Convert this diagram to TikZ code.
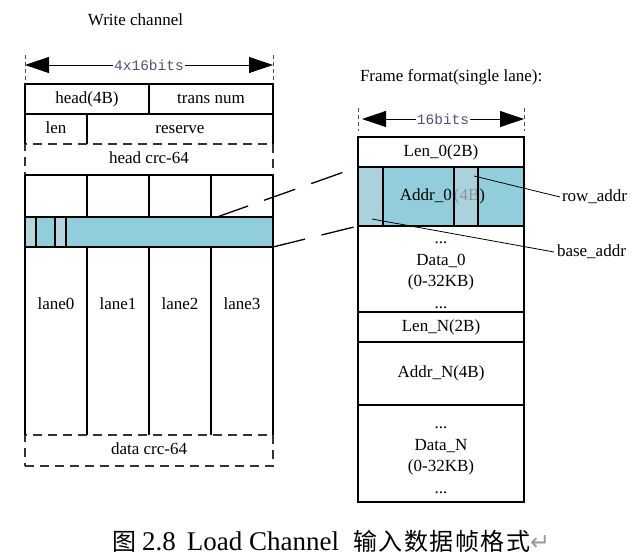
\documentclass[tikz,border=0pt]{standalone}
\usepackage{fontspec}
\setmainfont{Liberation Serif}
\newfontfamily\monofnt{Liberation Mono}
\newfontfamily\cjkfnt{Noto Sans CJK SC}
\newfontfamily\symfnt{DejaVu Sans}
\usetikzlibrary{arrows.meta}
\definecolor{barblue}{HTML}{92CDDC}
\definecolor{lightblue}{HTML}{B6D4DC}
\definecolor{dimtext}{HTML}{5A4E78}
\begin{document}
\begin{tikzpicture}[x=1pt,y=-1pt,
  base/.style={inner sep=0pt, outer sep=0pt, font=\fontsize{17}{21.5}\selectfont, align=center},
  one/.style={base, text height=12pt, text depth=4pt},
  box/.style={one, draw, line width=1.3pt},
  solidline/.style={line width=1.3pt},
  crcbox/.style={one, draw=black!80, line width=1.3pt, dash pattern=on 9pt off 6pt},
  dimtick/.style={draw=black!70, line width=0.6pt, dash pattern=on 4pt off 3pt},
  dimarrow/.style={line width=0.8pt, {Triangle[length=24pt,width=16pt]}-{Triangle[length=24pt,width=16pt]}},
  dimlabel/.style={fill=white, inner xsep=1pt, inner ysep=0pt, text=dimtext, font=\monofnt\fontsize{14.5}{15}\selectfont},
  zoomline/.style={line width=1.3pt, dash pattern=on 33pt off 17pt},
  leader/.style={line width=0.8pt},
  title/.style={inner sep=0pt, outer sep=0pt, font=\fontsize{17}{21.5}\selectfont, text height=12pt, text depth=4pt}
]
\useasboundingbox (0,0) rectangle (636,557);

% ---------- left: write channel ----------
\node[title] (wctitle) at (135.5,21) {Write channel};

\coordinate (dl1) at (25,55); \coordinate (dl2) at (25,83);
\coordinate (dr1) at (273,55); \coordinate (dr2) at (273,83);
\draw[dimtick] (dl1) -- (dl2);
\draw[dimtick] (dr1) -- (dr2);
\coordinate (dla) at (25,65); \coordinate (dra) at (273,65);
\draw[dimarrow] (dla) -- (dra) node[midway, dimlabel] (wbits) {4x16bits};

\node[crcbox, minimum width=248pt, minimum height=31pt] (hcrc) at (149,159.5) {head crc-64};
\node[crcbox, minimum width=248pt, minimum height=31pt] (dcrc) at (149,450.5) {data crc-64};

\node[box, minimum width=124pt, minimum height=30pt] (hd) at (87,99) {head(4B)};
\node[box, minimum width=124pt, minimum height=30pt] (tn) at (211,99) {trans num};

\node[one, minimum width=62pt, minimum height=30pt] (len) at (56,129) {len};
\node[one, minimum width=186pt, minimum height=30pt] (rsv) at (180,129) {reserve};
\draw[solidline] (len.south west) -- (len.north west)
  (len.north east) -- (len.south east)
  (rsv.north east) -- (rsv.south east);

\node[one, minimum width=62pt, minimum height=260pt] (l0) at (56,305) {lane0};
\node[one, minimum width=62pt, minimum height=260pt] (l1) at (118,305) {lane1};
\node[one, minimum width=62pt, minimum height=260pt] (l2) at (180,305) {lane2};
\node[one, minimum width=62pt, minimum height=260pt] (l3) at (242,305) {lane3};
\draw[solidline] (l0.north west) -- (l3.north east);
\draw[solidline] (l0.north west) -- (l0.south west)
  (l0.north east) -- (l0.south east)
  (l1.north east) -- (l1.south east)
  (l2.north east) -- (l2.south east)
  (l3.north east) -- (l3.south east);

\node[box, fill=barblue, minimum width=248pt, minimum height=30pt] (bar) at (149,232) {};
\node[box, fill=lightblue, minimum width=11pt, minimum height=30pt] (s1) at (30.5,232) {};
\node[box, fill=lightblue, minimum width=11pt, minimum height=30pt] (s2) at (60.5,232) {};

% ---------- right: frame format ----------
\node[title, anchor=west] (fftitle) at (360,77) {Frame format(single lane):};

\coordinate (fl1) at (358,108); \coordinate (fl2) at (358,131);
\coordinate (fr1) at (524,108); \coordinate (fr2) at (524,131);
\draw[dimtick] (fl1) -- (fl2);
\draw[dimtick] (fr1) -- (fr2);
\coordinate (fla) at (362,119); \coordinate (fra) at (524,119);
\draw[dimarrow] (fla) -- (fra) node[midway, dimlabel] (fbits) {16bits};

\node[box, minimum width=166pt, minimum height=30pt] (len0) at (441,152) {Len\_0(2B)};
\node[box, fill=barblue, minimum width=166pt, minimum height=59pt] (addr0) at (441,196.5) {\hspace{3pt}Addr\_0\kern2pt(4B)};
\node[box, minimum width=166pt, minimum height=86pt] (data0) at (441,269) {};
\node[base] (data0txt) at (441,275) {...\\Data\_0\\(0-32KB)\\...};
\node[box, minimum width=166pt, minimum height=30pt] (lenN) at (441,327) {Len\_N(2B)};
\node[box, minimum width=166pt, minimum height=63pt] (addrN) at (441,373.5) {Addr\_N(4B)};
\node[box, minimum width=166pt, minimum height=97pt] (dataN) at (441,453.5) {};
\node[base] (dataNtxt) at (441,460) {...\\Data\_N\\(0-32KB)\\...};

\node[box, fill=lightblue, fill opacity=0.72, draw opacity=1, minimum width=25pt, minimum height=59pt] (b1) at (370.5,196.5) {};
\node[box, fill=lightblue, fill opacity=0.72, draw opacity=1, minimum width=24pt, minimum height=59pt] (b2) at (466,196.5) {};

\coordinate (rowpt) at (474,176);
\node[title, anchor=west, inner xsep=2pt] (rowaddr) at (560,197) {row\_addr};
\draw[leader] (rowpt) -- (rowaddr.west);
\coordinate (basept) at (372,219);
\node[title, anchor=west, inner xsep=3pt] (baseaddr) at (554,252) {base\_addr};
\draw[leader] (basept) -- (baseaddr.west);

% ---------- zoom lines ----------
\coordinate (zu) at (217,217);
\draw[zoomline] (zu) -- (addr0.north west);
\draw[zoomline] (bar.south east) -- (addr0.south west);

% ---------- caption ----------
\node[inner sep=0pt, anchor=west, font=\fontsize{27}{27}\selectfont] (cap) at (112,541)
  {{\cjkfnt\fontsize{24}{24}\selectfont 图}\hspace{6pt}2.8\hspace{11pt}Load Channel\hspace{14pt}{\cjkfnt\fontsize{24}{24}\selectfont 输\kern1.5pt 入\kern1.5pt 数\kern1.5pt 据\kern1.5pt 帧\kern1.5pt 格\kern1.5pt 式}\textcolor{black!40}{\symfnt\fontsize{24}{24}\selectfont ↵}};
\end{tikzpicture}
\end{document}
